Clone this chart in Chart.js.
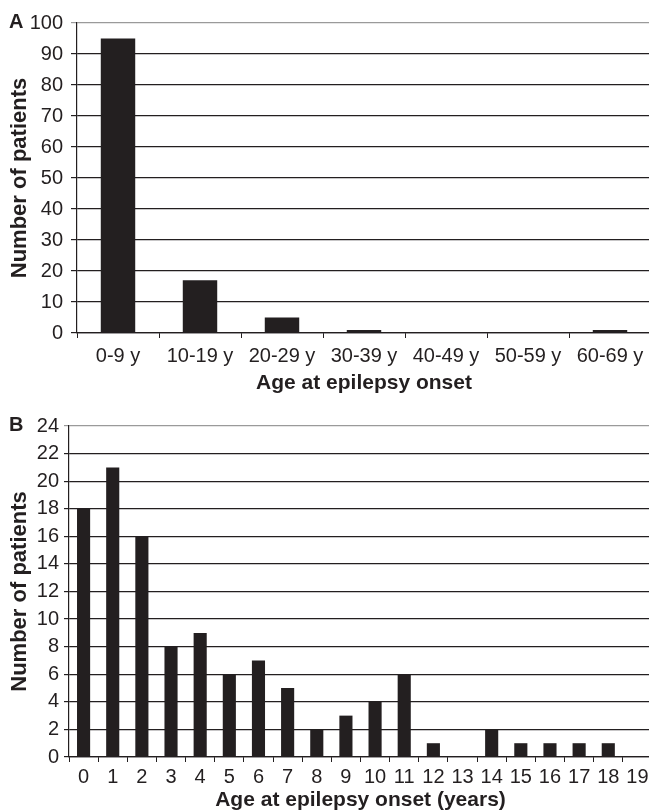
<!DOCTYPE html>
<html>
<head>
<meta charset="utf-8">
<script src="https://cdn.jsdelivr.net/npm/chart.js@4.4.1/dist/chart.umd.min.js"></script>
<style>
  html, body { margin: 0; padding: 0; background: #fff; overflow: hidden; width: 649px; height: 812px; }
  .panel { position: absolute; left: 0; }
  .tag { position: absolute; font-family: "Liberation Sans", Arial, sans-serif; font-weight: bold; font-size: 20px; color: #231f20; }
</style>
</head>
<body>
<div class="panel" style="top:0px;"><canvas id="chartA" width="660" height="400"></canvas></div>
<div class="panel" style="top:400px;"><canvas id="chartB" width="660" height="414"></canvas></div>
<div class="tag" style="left:9px; top:10px;">A</div>
<div class="tag" style="left:9px; top:413px;">B</div>
<script>
// ---- Data ----
const categoriesA = ["0-9 y", "10-19 y", "20-29 y", "30-39 y", "40-49 y", "50-59 y", "60-69 y"];
const valuesA = [95, 17, 5, 1, 0, 0, 1];
const yTicksA = { min: 0, max: 100, step: 10 };

const categoriesB = ["0","1","2","3","4","5","6","7","8","9","10","11","12","13","14","15","16","17","18","19"];
const valuesB = [18, 21, 16, 8, 9, 6, 7, 5, 2, 3, 4, 6, 1, 0, 2, 1, 1, 1, 1, 0];
const yTicksB = { min: 0, max: 24, step: 2 };

const xTitleA = "Age at epilepsy onset";
const xTitleB = "Age at epilepsy onset (years)";
const yTitle = "Number of patients";

// ---- Style ----
const INK = "#231f20";
const FONT = "'Liberation Sans', Arial, sans-serif";

function makeChart(id, cats, vals, yt, xTitle, cfg) {
  return new Chart(document.getElementById(id), {
    type: "bar",
    data: {
      labels: cats,
      datasets: [{
        data: vals,
        backgroundColor: INK,
        borderWidth: 0,
        categoryPercentage: 1.0,
        barPercentage: cfg.barPct
      }]
    },
    options: {
      responsive: false,
      animation: false,
      layout: { padding: { top: cfg.padTop, right: cfg.padRight, bottom: 0, left: 0 } },
      plugins: { legend: { display: false }, tooltip: { enabled: false } },
      scales: {
        x: {
          type: "category",
          offset: true,
          grid: { offset: true, drawOnChartArea: false, drawTicks: true, tickLength: 5, color: INK, lineWidth: 1 },
          border: { display: true, color: INK, width: 1.2 },
          ticks: { color: INK, font: { family: FONT, size: 20 }, padding: cfg.xTickPad, maxRotation: 0, autoSkip: false },
          title: { display: true, text: xTitle, color: INK, font: { family: FONT, size: 21, weight: "bold" }, padding: { top: 0, bottom: cfg.xTitlePad } },
          afterFit: (s) => { s.height = cfg.xHeight; }
        },
        y: {
          min: yt.min, max: yt.max,
          ticks: { stepSize: yt.step, color: INK, font: { family: FONT, size: 20 }, padding: cfg.yTickPad },
          grid: {
            drawTicks: true, tickLength: cfg.yTickLen, lineWidth: 1.2,
            color: (c) => (c.tick && c.tick.value === yt.max) ? "#9a9a9a" : INK
          },
          border: { display: true, color: INK, width: 1.2 },
          title: { display: true, text: yTitle, color: INK, font: { family: FONT, size: 22, weight: "bold" }, padding: { top: 7, bottom: 0 } },
          afterFit: (s) => { s.width = cfg.yWidth; }
        }
      }
    }
  });
}

makeChart("chartA", categoriesA, valuesA, yTicksA, xTitleA, {
  barPct: 0.42, padTop: 23, padRight: 9, xHeight: 67, xTickPad: 6, xTitlePad: 4, yTickPad: 8, yTickLen: 6, yWidth: 77
});
makeChart("chartB", categoriesB, valuesB, yTicksB, xTitleB, {
  barPct: 0.45, padTop: 26, padRight: 8, xHeight: 57, xTickPad: 3, xTitlePad: 1, yTickPad: 5, yTickLen: 5, yWidth: 69
});
</script>
</body>
</html>
